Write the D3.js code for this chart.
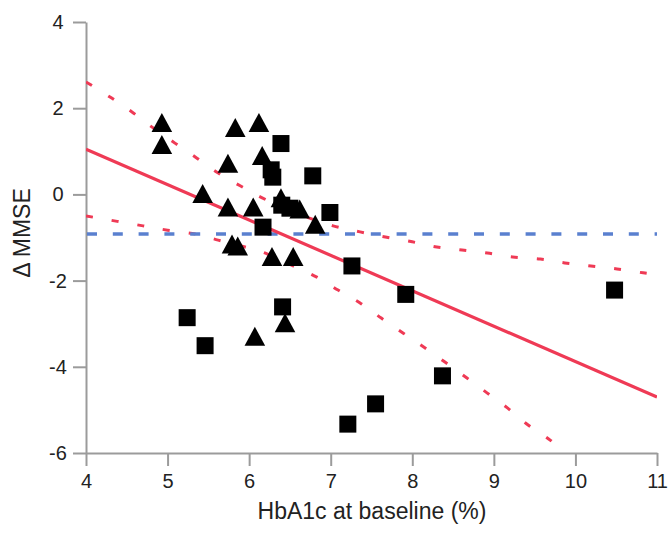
<!DOCTYPE html>
<html><head><meta charset="utf-8">
<script src="https://cdn.jsdelivr.net/npm/d3@7/dist/d3.min.js"></script>
<style>body{margin:0;background:#fff}</style>
</head><body><svg id="c" width="671" height="534"></svg>
<script>
// Triangles group
const triX = [4.93, 4.93, 5.83, 6.12, 5.74, 6.16, 5.43, 5.74, 6.05, 5.79, 5.86, 6.28, 6.54, 6.81, 6.39, 6.62, 6.07, 6.44];
const triY = [1.67, 1.16, 1.55, 1.67, 0.72, 0.90, 0.02, -0.29, -0.29, -1.15, -1.20, -1.44, -1.44, -0.69, -0.08, -0.34, -3.29, -2.98];
// Squares group
const sqX = [6.39, 6.27, 6.29, 6.78, 6.99, 6.17, 6.40, 6.50, 7.26, 7.92, 8.37, 10.48, 7.55, 7.21, 5.24, 5.46, 6.41];
const sqY = [1.18, 0.57, 0.40, 0.43, -0.42, -0.76, -0.25, -0.32, -1.66, -2.32, -4.21, -2.22, -4.86, -5.33, -2.86, -3.51, -2.61];
// Regression line
const fitX = [4, 11];
const fitY = [1.05, -4.70];
// Confidence bands
const upperX = [4.00, 4.31, 4.58, 4.81, 5.09, 5.36, 5.60, 5.89, 6.16, 6.60, 7.03, 7.36, 7.67, 8.00, 8.30, 8.61, 8.92, 9.23, 9.57, 9.87, 10.19, 10.51, 10.83, 11.00];
const upperY = [2.61, 2.24, 1.89, 1.56, 1.19, 0.84, 0.52, 0.20, -0.08, -0.45, -0.73, -0.87, -0.99, -1.10, -1.22, -1.29, -1.36, -1.45, -1.50, -1.59, -1.66, -1.73, -1.82, -1.86];
const lowerX = [4.00, 4.70, 5.00, 5.34, 5.62, 5.95, 6.22, 6.54, 6.83, 7.09, 7.36, 7.62, 7.89, 8.14, 8.40, 8.67, 8.92, 9.17, 9.42, 9.69, 9.87];
const lowerY = [-0.50, -0.73, -0.83, -0.92, -1.06, -1.22, -1.38, -1.66, -1.92, -2.22, -2.52, -2.87, -3.22, -3.54, -3.89, -4.26, -4.61, -4.96, -5.35, -5.70, -6.00];
// Reference (blue) line
const refX = [4, 11];
const refY = [-0.92, -0.92];
// Ticks & labels
const xTicks = [4, 5, 6, 7, 8, 9, 10, 11];
const yTicks = [-6, -4, -2, 0, 2, 4];
const xTitle = "HbA1c at baseline (%)";
const yTitle = "Δ MMSE";

const svg = d3.select("#c");
const font = "'Liberation Sans', Arial, sans-serif";
const x = d3.scaleLinear().domain([4, 11]).range([86, 657]);
const y = d3.scaleLinear().domain([-6, 4]).range([453, 22]);

svg.append("defs").append("clipPath").attr("id", "clip")
  .append("rect").attr("x", 86).attr("y", 22).attr("width", 571).attr("height", 431);

// Axes
const axisColor = "#9b9b9b";
const gx = svg.append("g").attr("transform", "translate(0,453)")
  .call(d3.axisBottom(x).tickValues(xTicks).tickSize(13).tickPadding(8).tickSizeOuter(0).tickFormat(d3.format("d")));
const gy = svg.append("g").attr("transform", "translate(86,0)")
  .call(d3.axisLeft(y).tickValues(yTicks).tickSize(13).tickPadding(10).tickSizeOuter(0).tickFormat(d => d < 0 ? "-" + Math.abs(d) : String(d)));
[gx, gy].forEach(g => {
  g.select(".domain").attr("stroke", axisColor).attr("stroke-width", 2);
  g.selectAll(".tick line").attr("stroke", axisColor).attr("stroke-width", 2);
  g.selectAll(".tick text").attr("fill", "#222").style("font-family", font).style("font-size", "20px");
});
gy.selectAll(".tick text").attr("text-anchor", "middle").attr("x", -28);

// Titles
svg.append("text").attr("x", 372).attr("y", 519).attr("text-anchor", "middle")
  .style("font-family", font).style("font-size", "23px").attr("fill", "#222").text(xTitle);
svg.append("text").attr("transform", "translate(30,233) rotate(-90)").attr("text-anchor", "middle")
  .style("font-family", font).style("font-size", "23px").attr("fill", "#222").text(yTitle);

const plot = svg.append("g").attr("clip-path", "url(#clip)");
const line = d3.line().x(d => x(d[0])).y(d => y(d[1]));
const curve = d3.line().x(d => x(d[0])).y(d => y(d[1])).curve(d3.curveCatmullRom);

const red = "#ef3a55";
plot.append("path").attr("d", curve(upperX.map((v, i) => [v, upperY[i]])))
  .attr("fill", "none").attr("stroke", red).attr("stroke-width", 3).attr("stroke-dasharray", "7,19");
plot.append("path").attr("d", curve(lowerX.map((v, i) => [v, lowerY[i]])))
  .attr("fill", "none").attr("stroke", red).attr("stroke-width", 3).attr("stroke-dasharray", "7,19");
plot.append("path").attr("d", line(refX.map((v, i) => [v, refY[i]])))
  .attr("fill", "none").attr("stroke", "#5a80cf").attr("stroke-width", 3.5).attr("stroke-dasharray", "10,15.8")
  .attr("stroke-dashoffset", -1);
plot.append("path").attr("d", line(fitX.map((v, i) => [v, fitY[i]])))
  .attr("fill", "none").attr("stroke", red).attr("stroke-width", 3.2);

// Points
const tri = "M0,-9.5L10.3,9.5L-10.3,9.5Z";
svg.append("g").selectAll("path").data(triX.map((v, i) => [v, triY[i]])).join("path")
  .attr("d", tri).attr("transform", d => `translate(${x(d[0])},${y(d[1])})`).attr("fill", "#000");
svg.append("g").selectAll("rect").data(sqX.map((v, i) => [v, sqY[i]])).join("rect")
  .attr("x", d => x(d[0]) - 8.5).attr("y", d => y(d[1]) - 8.5).attr("width", 17).attr("height", 17).attr("fill", "#000");
</script>
</body></html>
